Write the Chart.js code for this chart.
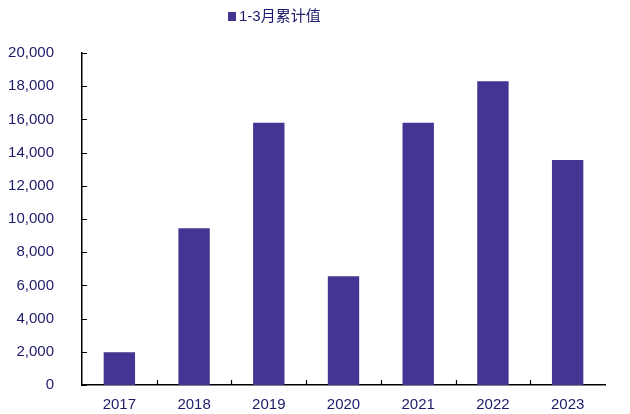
<!DOCTYPE html>
<html>
<head>
<meta charset="utf-8">
<script src="https://cdn.jsdelivr.net/npm/chart.js@4"></script>
<style>
  html, body { margin: 0; padding: 0; background: #fff; overflow: hidden; }
  #wrap { width: 630px; height: 414px; }
</style>
</head>
<body>
<div id="wrap"><canvas id="grafico"></canvas></div>
<script>
const anios = ['2017', '2018', '2019', '2020', '2021', '2022', '2023'];
const valores = [1980, 9450, 15800, 6550, 15800, 18300, 13550];
const etiqueta = '1-3月累计值';
const yTicks = [0, 2000, 4000, 6000, 8000, 10000, 12000, 14000, 16000, 18000, 20000];

const colorBarra = '#433594';
const colorTexto = '#1d1a6a';
const fuente = '"Liberation Sans", Arial, "Noto Sans CJK SC", sans-serif';

// marcas de eje hacia dentro
const marcasInternas = {
  id: 'marcasInternas',
  afterDraw(chart) {
    const ctx = chart.ctx;
    const x = chart.scales.x, y = chart.scales.y;
    ctx.save();
    ctx.strokeStyle = '#000';
    ctx.lineWidth = 1.2;
    ctx.beginPath();
    yTicks.forEach(v => {
      const py = Math.round(y.getPixelForValue(v)) + 0.5;
      ctx.moveTo(x.left, py);
      ctx.lineTo(x.left + 5, py);
    });
    for (let i = 1; i < anios.length; i++) {
      const px = Math.round((x.getPixelForValue(i - 1) + x.getPixelForValue(i)) / 2) + 0.5;
      ctx.moveTo(px, y.bottom);
      ctx.lineTo(px, y.bottom - 5);
    }
    ctx.stroke();
    ctx.restore();
  }
};

// leyenda dibujada a mano
const leyenda = {
  id: 'leyenda',
  afterDraw(chart) {
    const ctx = chart.ctx;
    ctx.save();
    ctx.fillStyle = colorBarra;
    ctx.fillRect(228, 12, 8, 9);
    ctx.fillStyle = colorTexto;
    ctx.font = '15px ' + fuente;
    ctx.textBaseline = 'middle';
    ctx.textAlign = 'left';
    ctx.fillText(etiqueta, 239, 17);
    ctx.restore();
  }
};

new Chart(document.getElementById('grafico'), {
  type: 'bar',
  data: {
    labels: anios,
    datasets: [{
      label: etiqueta,
      data: valores,
      backgroundColor: colorBarra,
      barPercentage: 0.42,
      categoryPercentage: 1
    }]
  },
  options: {
    responsive: true,
    maintainAspectRatio: false,
    animation: false,
    layout: { padding: { top: 53, right: 25, left: 0, bottom: 0 } },
    plugins: {
      legend: { display: false },
      tooltip: { enabled: false }
    },
    scales: {
      x: {
        grid: { display: false },
        border: { display: true, color: '#000', width: 1.5 },
        ticks: { color: colorTexto, font: { family: fuente, size: 15 }, padding: 3, maxRotation: 0 },
        afterFit(s) { s.height = 27; }
      },
      y: {
        min: 0,
        max: 20000,
        grid: { display: false },
        border: { display: true, color: '#000', width: 1.5 },
        afterBuildTicks(s) { s.ticks = yTicks.map(v => ({ value: v })); },
        ticks: {
          color: colorTexto,
          font: { family: fuente, size: 15 },
          padding: 20,
          callback: v => v.toLocaleString('en-US')
        },
        afterFit(s) { s.width = 82; }
      }
    }
  },
  plugins: [marcasInternas, leyenda]
});
</script>
</body>
</html>
